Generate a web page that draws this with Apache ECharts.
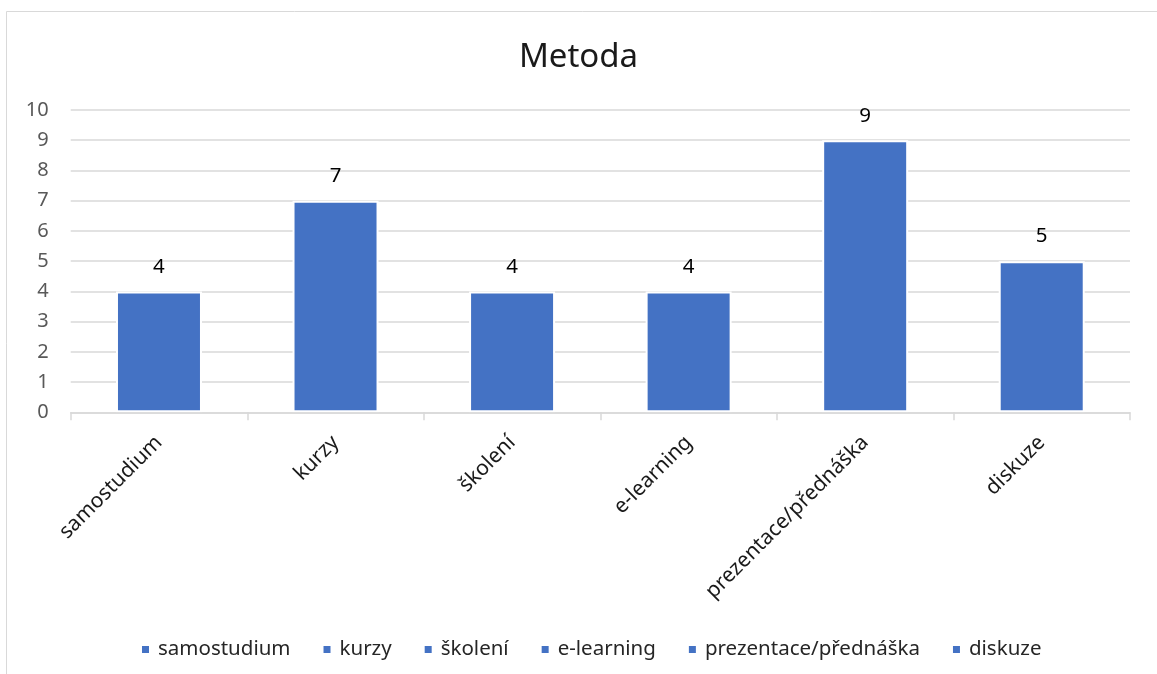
<!DOCTYPE html>
<html>
<head>
<meta charset="utf-8">
<style>
  html, body { margin: 0; padding: 0; background: #fff; }
  #chart { width: 1157px; height: 674px; }
</style>
<script src="https://cdn.jsdelivr.net/npm/echarts@6/dist/echarts.min.js"></script>
</head>
<body>
<div id="chart"></div>
<script>
// Training method counts
const categories = ['samostudium', 'kurzy', 'školení', 'e-learning', 'prezentace/přednáška', 'diskuze'];
const counts = [4, 7, 4, 4, 9, 5];
const yTicks = [0, 1, 2, 3, 4, 5, 6, 7, 8, 9, 10];

const BLUE = '#4472C4';
const FONT = '"Noto Sans", "Open Sans", sans-serif';

// One series per category so each method gets its own legend entry;
// they share a single slot on the axis (barGap -100%).
const series = categories.map((name, i) => ({
  name: name,
  type: 'bar',
  barGap: '-100%',
  barWidth: 86,
  itemStyle: { color: BLUE, borderColor: '#ffffff', borderWidth: 2 },
  label: {
    show: true,
    position: 'top',
    distance: 14,
    fontFamily: FONT,
    fontSize: 20.5,
    color: '#000000'
  },
  data: categories.map((c, j) => (j === i ? counts[j] : '-'))
}));

const chart = echarts.init(document.getElementById('chart'), null, { renderer: 'canvas' });
chart.setOption({
  animation: false,
  backgroundColor: '#ffffff',
  graphic: [{
    type: 'rect',
    shape: { x: 6.5, y: 11.5, width: 1300, height: 800 },
    style: { fill: 'none', stroke: '#d9d9d9', lineWidth: 1 },
    silent: true,
    z: -10
  }],
  title: {
    text: 'Metoda',
    left: 'center',
    top: 36,
    padding: [5, 0, 5, 15],
    textStyle: { fontFamily: FONT, fontSize: 33, fontWeight: 'normal', color: '#1a1a1a' }
  },
  legend: {
    data: categories,
    left: 135,
    top: 634,
    icon: 'rect',
    itemWidth: 9,
    itemHeight: 9,
    itemGap: 31,
    textStyle: { fontFamily: FONT, fontSize: 20.5, color: '#262626', padding: [0, 0, 0, 3] },
    selectedMode: false
  },
  grid: { left: 70.7, right: 27, top: 110, bottom: 261.7, containLabel: false },
  xAxis: {
    type: 'category',
    data: categories,
    z: 5,
    axisLine: { lineStyle: { color: '#d9d9d9', width: 1.5 } },
    axisTick: { show: true, length: 8, lineStyle: { color: '#d9d9d9', width: 1.5 } },
    axisLabel: {
      rotate: 45,
      margin: 27,
      interval: 0,
      fontFamily: FONT,
      fontSize: 21,
      color: '#1a1a1a'
    }
  },
  yAxis: {
    type: 'value',
    min: yTicks[0],
    max: yTicks[yTicks.length - 1],
    interval: 1,
    axisLine: { show: false },
    axisTick: { show: false },
    axisLabel: { margin: 22, fontFamily: FONT, fontSize: 20, color: '#595959' },
    splitLine: { lineStyle: { color: '#d9d9d9', width: 1.5 } }
  },
  series: series
});
</script>
</body>
</html>
